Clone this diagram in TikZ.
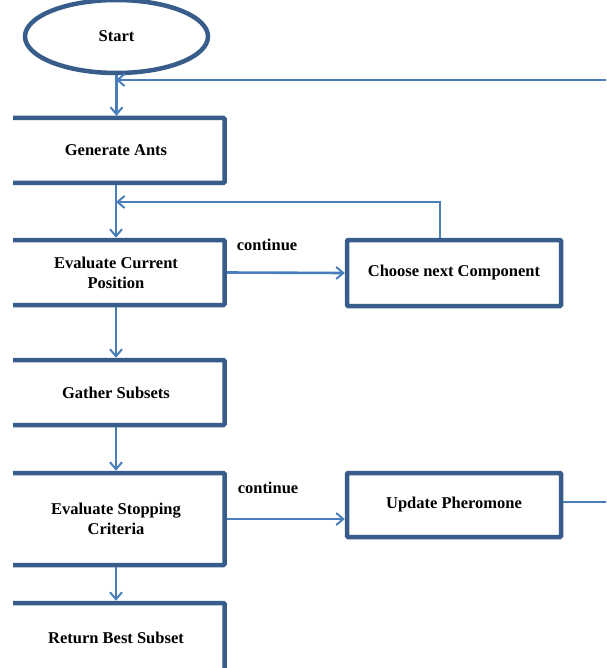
\documentclass[tikz,border=0pt]{standalone}
\usepackage{fontspec}
\setmainfont{Liberation Serif}
\usetikzlibrary{arrows.meta,shapes.geometric}
\definecolor{boxblue}{HTML}{385D8A}
\definecolor{lineblue}{HTML}{4A7EBB}
\begin{document}
\begin{tikzpicture}[x=1pt,y=-1pt,
  txt/.style={font=\fontsize{16.5}{20}\selectfont\bfseries},
  box/.style={txt,draw=boxblue,line width=4.5pt,fill=white,rectangle,rounded corners=1pt,inner sep=0pt,align=center},
  lbox/.style={box,minimum width=217pt},
  rbox/.style={box,minimum width=214pt},
  conn/.style={draw=lineblue,line width=2.6pt,-{Straight Barb[length=7pt,width=12pt,line width=2pt]}},
  lbl/.style={txt,inner sep=0pt}]
\useasboundingbox (0,0) rectangle (606,668);
\begin{scope}
\clip (13,0) rectangle (606,668);
% nodes
\node[box,ellipse,minimum width=183pt,minimum height=73pt] (start) at (116.5,36.5) {Start};
\node[lbox,minimum height=65pt] (gen) at (116,150.5) {Generate Ants};
\node[lbox,minimum height=65pt] (evalc) at (116,272.5) {Evaluate Current\\Position};
\node[rbox,minimum height=66pt] (choose) at (454,273) {Choose next Component};
\node[lbox,minimum height=65pt] (gather) at (116,392.5) {Gather Subsets};
\node[lbox,minimum height=92pt] (evals) at (116,519) {Evaluate Stopping\\Criteria};
\node[rbox,minimum height=64pt] (update) at (454,505) {Update Pheromone};
\node[lbox,minimum height=70pt] (ret) at (116,638) {Return Best Subset};
\node[lbl] (c1) at (267,245) {continue};
\node[lbl] (c2) at (268,488) {continue};
\coordinate (j1) at (116,80);
\coordinate (j2) at (116,202);
% connectors
\draw[conn] (start.south) -- (start.south |- gen.north);
\draw[conn] (gen.south) -- (evalc.north);
\draw[conn] (evalc.east) -- (choose.west);
\draw[conn] ([xshift=-14pt]choose.north) |- (j2);
\draw[conn] (evalc.south) -- (gather.north);
\draw[conn] (gather.south) -- (evals.north);
\draw[conn] (evals.east) -- (evals.east -| update.west);
\draw[conn] ([yshift=3pt]update.east) -- ++(60,0) |- (j1);
\draw[conn] (evals.south) -- (ret.north);
\end{scope}
\end{tikzpicture}
\end{document}
